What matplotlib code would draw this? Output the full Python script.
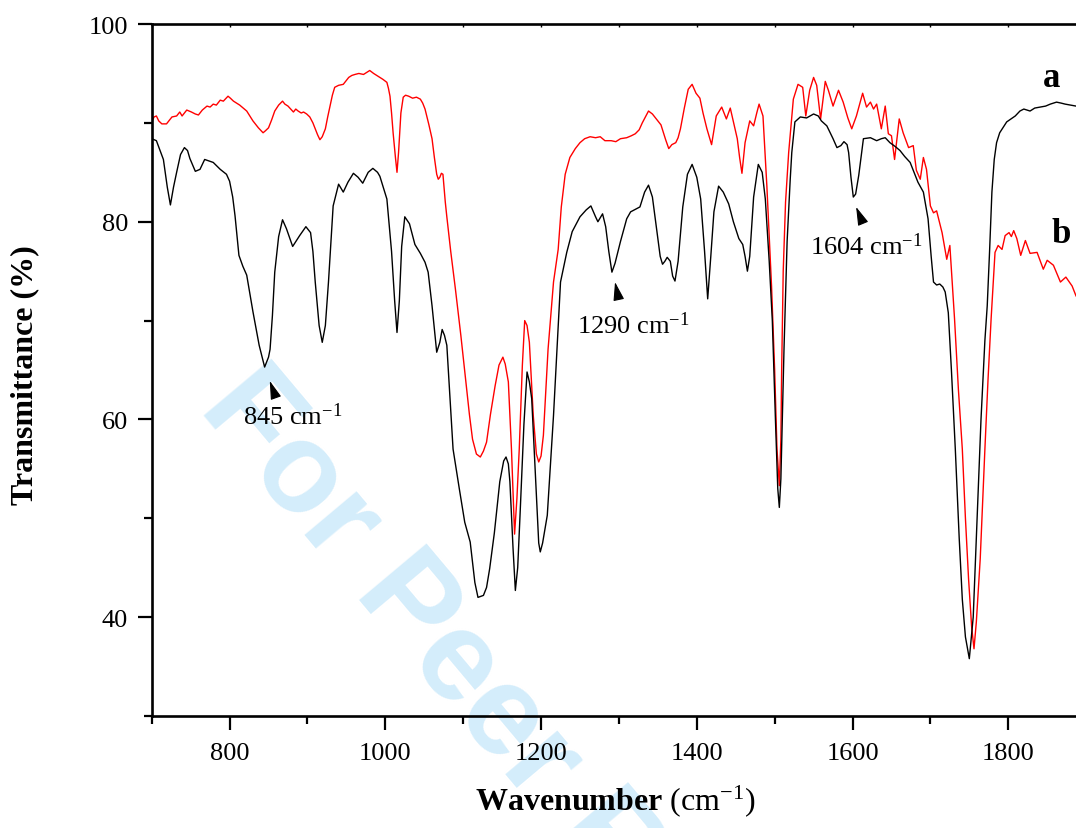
import matplotlib
matplotlib.use("Agg")
import matplotlib.pyplot as plt
from matplotlib.ticker import MultipleLocator

# ---------------- data ----------------
wn_a = [700, 706, 715, 720, 724, 728, 732, 737, 742, 746, 749, 756, 762, 768, 779, 788, 796, 800,
        804, 807, 812, 817, 822, 830, 838, 845, 850, 852, 855, 858, 863, 868, 873, 881, 890, 898,
        904, 907, 910, 915, 919, 923, 927, 933, 940, 946, 952, 959, 965, 971, 978, 984, 990, 993,
        1002, 1008, 1012, 1015, 1018, 1021, 1025, 1031, 1038, 1045, 1051, 1055, 1060, 1066, 1070,
        1073, 1076, 1079, 1087, 1095, 1102, 1109, 1115, 1119, 1126, 1130, 1134, 1140, 1147, 1152,
        1155, 1158, 1160, 1164, 1167, 1170, 1173, 1178, 1182, 1185, 1188, 1193, 1197, 1199, 1202,
        1208, 1216, 1225, 1233, 1240, 1250, 1258, 1264, 1270, 1273, 1279, 1283, 1287, 1291, 1295,
        1302, 1310, 1315, 1327, 1333, 1338, 1343, 1348, 1353, 1356, 1359, 1362, 1366, 1369, 1372,
        1376, 1382, 1388, 1394, 1400, 1405, 1410, 1414, 1418, 1422, 1428, 1434, 1441, 1447, 1454,
        1459, 1462, 1465, 1468, 1473, 1479, 1484, 1488, 1493, 1497, 1501, 1504, 1506, 1508, 1512,
        1516, 1520, 1522, 1526, 1533, 1541, 1550, 1556, 1560, 1567, 1575, 1580, 1585, 1589, 1593,
        1595, 1598, 1601, 1604, 1608, 1614, 1623, 1631, 1637, 1642, 1648, 1655, 1661, 1667, 1674,
        1680, 1684, 1691, 1697, 1701, 1704, 1708, 1712, 1716, 1719, 1723, 1727, 1732, 1737, 1741,
        1745, 1750, 1755, 1760, 1765, 1770, 1773, 1776, 1779, 1782, 1785, 1789, 1798, 1809, 1815,
        1820, 1828, 1834, 1841, 1848, 1854, 1862, 1868, 1873, 1880, 1887]
t_a = [88.4, 88.2, 86.3, 83.5, 81.7, 83.5, 85.0, 86.8, 87.5, 87.2, 86.4, 85.1, 85.3, 86.3, 86.0, 85.3,
       84.8, 84.1, 82.5, 80.6, 76.6, 75.5, 74.6, 70.9, 67.5, 65.3, 66.3, 67.1, 70.5, 74.9, 78.5, 80.2,
       79.3, 77.5, 78.6, 79.5, 78.9, 77.0, 73.9, 69.5, 67.8, 69.5, 73.9, 81.6, 83.8, 83.0, 84.0, 84.9,
       84.5, 83.9, 85.0, 85.4, 85.0, 84.6, 82.3, 77.0, 72.0, 68.8, 72.0, 77.5, 80.5, 79.8, 77.7, 76.8,
       75.9, 74.9, 71.5, 66.8, 67.8, 69.1, 68.5, 67.5, 57.0, 53.0, 49.6, 47.6, 43.5, 42.0, 42.2, 43.0,
       44.9, 48.5, 53.7, 55.8, 56.2, 55.5, 53.7, 47.0, 42.7, 45.0, 50.3, 59.5, 64.8, 63.8, 62.1, 54.0,
       47.5, 46.6, 47.5, 50.3, 60.4, 73.9, 76.9, 79.0, 80.5, 81.2, 81.6, 80.5, 80.0, 80.8, 79.5, 77.0,
       74.9, 75.8, 78.0, 80.3, 81.0, 81.5, 83.0, 83.7, 82.5, 79.5, 76.5, 75.7, 76.0, 76.4, 76.0, 74.5,
       74.0, 76.0, 81.5, 84.8, 85.8, 84.5, 82.3, 77.0, 72.2, 76.5, 81.0, 83.6, 83.0, 81.8, 80.0, 78.3,
       77.7, 76.5, 75.0, 76.5, 82.5, 85.8, 85.0, 82.3, 76.0, 70.0, 60.0, 53.0, 51.1, 54.0, 67.1, 78.0,
       84.3, 87.0, 90.1, 90.6, 90.5, 90.9, 90.7, 90.2, 89.7, 88.4, 87.5, 87.7, 88.1, 87.8, 87.0, 84.5,
       82.5, 82.8, 84.7, 88.4, 88.5, 88.2, 88.4, 88.5, 88.0, 87.6, 87.2, 86.6, 86.0, 84.8, 84.0, 83.0,
       80.3, 76.5, 73.9, 73.6, 73.7, 73.4, 72.9, 70.8, 65.0, 57.0, 48.0, 41.8, 38.0, 35.8, 40.0, 50.0,
       60.0, 68.0, 71.5, 77.0, 83.0, 86.3, 88.0, 89.0, 90.1, 90.7, 91.2, 91.4, 91.2, 91.5, 91.6, 91.7,
       91.9, 92.1, 92.0, 91.9, 91.8, 91.7]

wn_b = [700, 703, 706, 709, 713, 719, 723, 726, 732, 736, 739, 741, 745, 751, 756, 760, 765, 771, 775,
        779, 783, 788, 792, 798, 801, 805, 813, 822, 830, 837, 843, 846, 850, 854, 858, 863, 868, 871,
        875, 882, 885, 888, 892, 895, 899, 903, 907, 910, 913, 916, 919, 923, 926, 929, 932, 935, 940,
        946, 950, 953, 957, 961, 966, 972, 976, 980, 985, 991, 997, 1002, 1004, 1006, 1008, 1010, 1013,
        1015, 1017, 1020, 1023, 1026, 1030, 1035, 1040, 1045, 1048, 1051, 1056, 1060, 1063, 1066, 1068,
        1070, 1072, 1074, 1077, 1079, 1084, 1090, 1097, 1103, 1108, 1112, 1117, 1122, 1126, 1130, 1135,
        1141, 1146, 1151, 1154, 1158, 1162, 1166, 1169, 1172, 1176, 1179, 1182, 1185, 1190, 1194, 1197,
        1200, 1203, 1209, 1216, 1222, 1226, 1231, 1237, 1244, 1250, 1256, 1263, 1270, 1276, 1282, 1290,
        1296, 1302, 1310, 1316, 1321, 1326, 1330, 1334, 1338, 1343, 1348, 1354, 1360, 1364, 1368, 1373,
        1376, 1379, 1384, 1389, 1394, 1399, 1404, 1408, 1413, 1419, 1425, 1432, 1438, 1443, 1449, 1452,
        1455, 1458, 1462, 1468, 1473, 1477, 1480, 1485, 1490, 1496, 1500, 1503, 1506, 1508, 1509, 1511,
        1514, 1518, 1524, 1530, 1536, 1540, 1545, 1550, 1554, 1559, 1565, 1569, 1575, 1582, 1588, 1594,
        1599, 1605, 1613, 1618, 1623, 1627, 1631, 1637, 1642, 1646, 1650, 1654, 1660, 1665, 1672, 1678,
        1682, 1687, 1691, 1695, 1700, 1704, 1708, 1715, 1721, 1725, 1731, 1736, 1741, 1745, 1749, 1753,
        1756, 1759, 1764, 1770, 1774, 1778, 1783, 1787, 1792, 1796, 1801, 1804, 1807, 1811, 1816, 1822,
        1828, 1837, 1845, 1850, 1858, 1867, 1874, 1882, 1887]
t_b = [90.1, 90.6, 90.7, 90.2, 89.9, 89.9, 90.3, 90.6, 90.7, 91.1, 90.7, 90.9, 91.3, 91.1, 90.9, 90.8,
       91.3, 91.7, 91.6, 91.9, 91.8, 92.3, 92.2, 92.7, 92.5, 92.2, 91.8, 91.2, 90.2, 89.5, 89.0, 89.2,
       89.5, 90.3, 91.2, 91.8, 92.2, 91.9, 91.7, 91.1, 91.4, 91.2, 91.0, 91.1, 90.9, 90.6, 90.0, 89.4,
       88.8, 88.3, 88.6, 89.4, 90.6, 91.7, 92.8, 93.6, 93.8, 93.9, 94.3, 94.6, 94.8, 94.9, 95.0, 94.9,
       95.1, 95.3, 95.0, 94.7, 94.4, 94.1, 93.5, 92.7, 91.0, 89.0, 86.5, 85.0, 87.0, 91.0, 92.6, 92.8,
       92.7, 92.5, 92.6, 92.4, 92.0, 91.4, 89.8, 88.4, 86.5, 84.8, 84.3, 84.5, 84.9, 84.8, 82.0, 80.5,
       77.0, 73.2, 68.5, 64.1, 60.5, 58.0, 56.5, 56.2, 56.8, 57.7, 60.5, 63.4, 65.5, 66.3, 65.6, 63.8,
       57.0, 48.4, 52.0, 57.0, 65.5, 70.0, 69.5, 67.8, 60.4, 56.5, 55.7, 56.3, 58.4, 67.1, 73.9, 77.2,
       81.5, 84.8, 86.5, 87.4, 88.0, 88.4, 88.6, 88.5, 88.6, 88.2, 88.2, 88.1, 88.4, 88.5, 88.7, 88.9,
       89.3, 90.0, 90.6, 91.2, 90.9, 90.4, 89.8, 88.3, 87.4, 87.8, 88.0, 88.5, 89.4, 91.5, 93.4, 93.9,
       93.0, 92.5, 91.0, 89.4, 87.8, 90.7, 91.6, 90.4, 91.5, 89.4, 88.4, 86.5, 84.9, 88.0, 90.2, 89.7,
       91.0, 91.9, 90.7, 83.6, 73.5, 65.0, 57.0, 53.3, 58.0, 65.0, 75.0, 82.0, 87.0, 92.4, 93.9, 93.6,
       90.7, 93.3, 94.6, 93.8, 90.4, 94.2, 93.3, 91.7, 93.3, 92.1, 90.5, 89.4, 90.7, 93.0, 91.6, 92.1,
       91.4, 91.9, 89.4, 91.7, 88.9, 88.7, 86.3, 90.4, 89.0, 87.5, 87.7, 85.2, 84.3, 86.5, 85.3, 81.6,
       80.9, 81.1, 78.9, 76.2, 77.6, 70.2, 63.0, 57.0, 50.0, 43.9, 39.0, 36.8, 39.5, 45.9, 57.0, 64.0,
       70.2, 76.9, 77.6, 77.2, 78.6, 78.9, 78.5, 79.1, 78.3, 76.6, 78.1, 76.8, 76.9, 75.2, 76.1, 75.6,
       73.9, 74.4, 73.5, 72.5]

peak_labels = ["845", "1290", "1604"]
arrow_tips = [(851.6, 63.9), (1295.0, 73.9), (1604.6, 81.5)]
arrow_bases = [(858.0, 62.5), (1299.0, 72.4), (1612.0, 80.1)]
label_pos = [(817.0, 59.5), (1246.0, 68.8), (1545.5, 76.7)]
curve_names = ["a", "b"]
curve_name_pos = [(1856.0, 93.7), (1868.0, 77.9)]
x_ticks = [800, 1000, 1200, 1400, 1600, 1800]
y_ticks = [40, 60, 80, 100]

# ---------------- style ----------------
plt.rcParams['font.family'] = ['Liberation Serif', 'DejaVu Serif']
plt.rcParams['mathtext.fontset'] = 'custom'
plt.rcParams['mathtext.rm'] = 'Liberation Serif'
plt.rcParams['mathtext.it'] = 'Liberation Serif:italic'
plt.rcParams['mathtext.bf'] = 'Liberation Serif:bold'

fig = plt.figure(figsize=(10.76, 8.29), dpi=100)
ax = fig.add_axes([0.141, 0.1351, 0.859, 0.8347])

# watermark behind data (extends past the axes, cut by the figure edge as in the reference)
ax.text(0.184, 0.5078, "For Peer Review", transform=fig.transFigure,
        rotation=-50, rotation_mode='anchor', ha='left', va='baseline',
        fontsize=92, fontweight='bold', family='Liberation Sans',
        color='#d4edfb', zorder=0, clip_on=False)

ax.plot(wn_b, t_b, color='#ff0000', lw=1.0, zorder=2)
ax.plot(wn_a, t_a, color='black', lw=1.0, zorder=3)

ax.set_xlim(700, 1887)
ax.set_ylim(30, 100)

ax.set_xticks(x_ticks)
ax.set_yticks(y_ticks)
ax.xaxis.set_minor_locator(MultipleLocator(100))
ax.yaxis.set_minor_locator(MultipleLocator(10))
ax.tick_params(axis='both', which='major', direction='out', length=10, width=1.6,
               labelsize=19, pad=7)
ax.tick_params(axis='both', which='minor', direction='out', length=5.5, width=1.6)
ax.tick_params(axis='x', which='major', pad=9)
ax.tick_params(axis='x', which='both', top=False)

for s in ['left', 'bottom', 'top']:
    ax.spines[s].set_linewidth(1.9)
ax.spines['right'].set_visible(False)

# top ticks: tiny inward marks
secx = ax.secondary_xaxis('top')
secx.set_xticks(x_ticks)
secx.xaxis.set_minor_locator(MultipleLocator(100))
secx.tick_params(which='both', direction='in', length=2.5, width=1.0, labeltop=False)
secx.spines['top'].set_visible(False)

ax.set_xlabel(r"$\mathbf{Wavenumber}$ (cm$^{-1}$)", fontsize=23)
ax.set_ylabel("Transmittance (%)", fontsize=23, fontweight='bold')
ax.xaxis.set_label_coords(0.501, -0.095)
ax.yaxis.set_label_coords(-0.122, 0.494)

for lab, tip, base, pos in zip(peak_labels, arrow_tips, arrow_bases, label_pos):
    ax.annotate('', xy=tip, xytext=base,
                arrowprops=dict(arrowstyle='-|>,head_length=0.95,head_width=0.28',
                                color='black', lw=0.8, shrinkA=0, shrinkB=0,
                                mutation_scale=12))
    ax.text(pos[0], pos[1], lab + r" cm$^{-1}$", fontsize=19, ha='left', va='baseline')

for name, pos in zip(curve_names, curve_name_pos):
    ax.text(pos[0], pos[1], name, fontsize=25, fontweight='bold', ha='center', va='baseline')

fig.savefig("out.png", dpi=100)
